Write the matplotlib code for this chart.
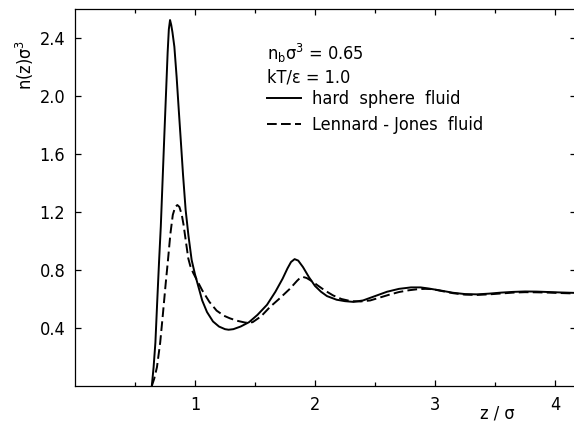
import matplotlib
matplotlib.use("Agg")
import matplotlib.pyplot as plt
from matplotlib import font_manager
from matplotlib.lines import Line2D

names = {f.name for f in font_manager.fontManager.ttflist}
condensed = {f.name for f in font_manager.fontManager.ttflist if f.stretch != "normal"
             and f.stretch != 500}
if "Liberation Sans Narrow" in names:
    family = "Liberation Sans Narrow"
    stretch = "normal"
else:
    family = "DejaVu Sans"
    stretch = "condensed"

plt.rcParams["font.family"] = [family, "DejaVu Sans"]
plt.rcParams["font.stretch"] = stretch
plt.rcParams["mathtext.fontset"] = "custom"
plt.rcParams["mathtext.rm"] = family

# hard sphere fluid
zHS = [0.64, 0.655, 0.67, 0.685, 0.70, 0.715, 0.73, 0.745, 0.76, 0.772, 0.782,
       0.792, 0.802, 0.812, 0.828, 0.847, 0.865, 0.883, 0.90, 0.922, 0.945,
       0.972, 1.00, 1.03, 1.06, 1.10, 1.15, 1.20, 1.25, 1.28, 1.32, 1.38, 1.45,
       1.52, 1.60, 1.67, 1.73, 1.77, 1.80, 1.83, 1.86, 1.90, 1.95, 2.00, 2.05,
       2.10, 2.18, 2.25, 2.32, 2.40, 2.50, 2.60, 2.70, 2.80, 2.88, 2.95, 3.05,
       3.15, 3.25, 3.35, 3.45, 3.55, 3.65, 3.75, 3.85, 3.95, 4.05, 4.17]
nHS = [0.0, 0.13, 0.30, 0.58, 0.85, 1.10, 1.42, 1.74, 2.05, 2.30, 2.46,
       2.524, 2.49, 2.44, 2.34, 2.13, 1.90, 1.676, 1.46, 1.214, 1.04,
       0.869, 0.77, 0.68, 0.59, 0.51, 0.445, 0.41, 0.392, 0.388, 0.392, 0.41, 0.44,
       0.49, 0.56, 0.65, 0.74, 0.81, 0.855, 0.875, 0.865, 0.82, 0.75, 0.69, 0.65,
       0.62, 0.595, 0.585, 0.58, 0.59, 0.62, 0.65, 0.67, 0.68, 0.68, 0.672, 0.658,
       0.643, 0.634, 0.632, 0.637, 0.644, 0.649, 0.652, 0.651, 0.648, 0.645, 0.642]

# Lennard-Jones fluid
zLJ = [0.64, 0.66, 0.683, 0.71, 0.733, 0.755, 0.775, 0.795, 0.815, 0.835,
       0.853, 0.87, 0.89, 0.905, 0.92, 0.932, 0.944, 0.96, 0.985, 1.01, 1.06,
       1.12, 1.18, 1.24, 1.29, 1.35, 1.42, 1.48, 1.55, 1.625, 1.70, 1.79, 1.85,
       1.875, 1.90, 1.93, 1.98, 2.02, 2.08, 2.15, 2.22, 2.30, 2.38, 2.46, 2.54,
       2.62, 2.70, 2.78, 2.86, 2.92, 2.98, 3.05, 3.15, 3.25, 3.35, 3.45, 3.55,
       3.65, 3.75, 3.85, 3.95, 4.05, 4.17]
nLJ = [0.0, 0.05, 0.13, 0.30, 0.50, 0.70, 0.87, 1.05, 1.18, 1.235,
       1.248, 1.235, 1.18, 1.11, 1.02, 0.95, 0.88, 0.83, 0.78, 0.74, 0.66,
       0.58, 0.52, 0.485, 0.467, 0.45, 0.437, 0.44, 0.48, 0.545, 0.60, 0.67, 0.725,
       0.745, 0.752, 0.745, 0.72, 0.695, 0.66, 0.625, 0.60, 0.585, 0.583, 0.59, 0.61,
       0.63, 0.648, 0.66, 0.668, 0.67, 0.668, 0.656, 0.64, 0.63, 0.628, 0.632, 0.638,
       0.644, 0.647, 0.646, 0.644, 0.641, 0.638]

yTicks = [0.4, 0.8, 1.2, 1.6, 2.0, 2.4]
xTicks = [1, 2, 3, 4]
xMinor = [0.5, 1.5, 2.5, 3.5]

fs = 13
fig = plt.figure(figsize=(5.74, 4.21), dpi=100)
ax = fig.add_axes([75 / 574, 35 / 421, 501 / 574, 377 / 421])

dash = (0, (5, 2.2))
ax.plot(zHS, nHS, color="black", lw=1.4, solid_capstyle="round")
ax.plot(zLJ, nLJ, color="black", lw=1.4, linestyle=dash)

ax.set_xlim(0, 501 / 120)
ax.set_ylim(0, 2.6)
ax.set_xticks(xTicks)
ax.set_xticks(xMinor, minor=True)
ax.set_yticks(yTicks)
ax.set_yticklabels([f"{v:.1f}" for v in yTicks])
ax.tick_params(which="both", direction="in", top=True, right=True,
               labelsize=fs, width=0.9, pad=7)
ax.tick_params(which="major", length=4)
ax.tick_params(which="minor", length=3)
for s in ax.spines.values():
    s.set_linewidth(0.9)

fig.text(25 / 574, 1 - 65 / 421, "n(z)σ$^\\mathregular{3}$", rotation=90,
         ha="center", va="center", fontsize=fs)
fig.text(497 / 574, 1 - 413 / 421, "z / σ", ha="center", va="center", fontsize=fs)

# parameter lines, positioned in figure pixels (from the top of the picture)
ax.text(267 / 574, 1 - 53 / 421, "n$_\\mathregular{b}$σ$^\\mathregular{3}$ = 0.65",
        transform=fig.transFigure, ha="left", va="center", fontsize=fs)
ax.text(267 / 574, 1 - 77 / 421, "kT/ε = 1.0", transform=fig.transFigure,
        ha="left", va="center", fontsize=fs)

handles = [Line2D([], [], color="black", lw=1.4),
           Line2D([], [], color="black", lw=1.4, linestyle=dash)]
ax.legend(handles, ["hard  sphere  fluid", "Lennard - Jones  fluid"],
          loc="upper left", bbox_to_anchor=(267 / 574, 1 - 90 / 421),
          bbox_transform=fig.transFigure,
          frameon=False, fontsize=fs, handlelength=1.9, handletextpad=0.6,
          borderaxespad=0, borderpad=0, labelspacing=0.45)

fig.savefig("out.png", dpi=100)
